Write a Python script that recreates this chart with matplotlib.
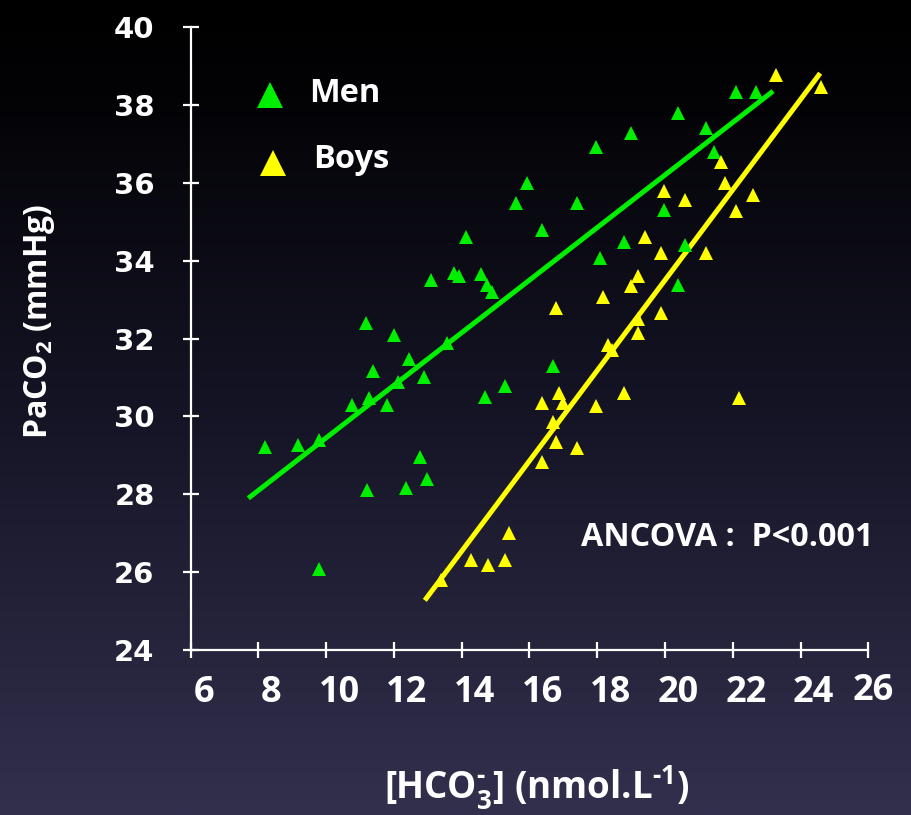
import numpy as np
import matplotlib
matplotlib.use("Agg")
import matplotlib.pyplot as plt
import matplotlib.transforms as mtransforms

# data
men_hco3 = [8.19, 9.17, 9.79, 9.79, 10.76, 11.17, 11.26, 11.38, 11.20, 11.79,
            12.00, 12.12, 12.44, 12.35, 12.77, 12.89, 12.97, 13.09, 13.57, 13.77,
            13.92, 14.13, 14.57, 14.75, 14.89, 14.69, 15.28, 15.60, 15.93, 16.37,
            16.69, 17.40, 17.96, 18.08, 18.79, 19.00, 19.97, 20.39, 20.39, 20.59,
            21.21, 21.45, 22.10, 22.69]
men_paco2 = [29.21, 29.26, 29.39, 26.08, 30.29, 32.40, 30.47, 31.16, 28.11, 30.29,
             32.09, 30.88, 31.47, 28.16, 28.96, 31.01, 28.39, 33.50, 31.88, 33.68,
             33.60, 34.61, 33.66, 33.37, 33.19, 30.50, 30.78, 35.48, 35.99, 34.79,
             31.29, 35.48, 36.92, 34.07, 34.48, 37.28, 35.30, 37.79, 33.37, 34.40,
             37.40, 36.79, 38.33, 38.33]

boys_hco3 = [13.39, 14.27, 14.77, 15.28, 15.40, 16.37, 16.37, 16.69, 16.78, 16.87,
             16.99, 17.40, 17.96, 18.79, 22.18, 18.32, 18.44, 19.20, 19.20, 19.88,
             16.78, 18.17, 18.99, 19.20, 19.88, 19.41, 21.21, 19.97, 20.59, 21.65,
             21.77, 22.59, 22.09, 23.28, 24.61]
boys_paco2 = [25.80, 26.31, 26.18, 26.31, 27.00, 28.83, 30.34, 29.86, 29.34, 30.60,
              30.34, 29.19, 30.27, 30.60, 30.47, 31.83, 31.70, 32.14, 32.50, 32.65,
              32.78, 33.07, 33.35, 33.60, 34.20, 34.61, 34.20, 35.79, 35.56, 36.53,
              35.99, 35.68, 35.27, 38.77, 38.46]

# regression lines (slope, intercept) and x range as drawn
men_fit = (0.675, 22.70)
men_fit_range = (7.70, 23.19)
boys_fit = (1.160, 10.30)
boys_fit_range = (12.91, 24.58)

x_ticks = [6, 8, 10, 12, 14, 16, 18, 20, 22, 24, 26]
y_ticks = [24, 26, 28, 30, 32, 34, 36, 38, 40]

GREEN = "#00EE00"
YELLOW = "#FFFF00"
W, H = 911, 815

plt.rcParams["font.family"] = ["Open Sans", "DejaVu Sans"]
plt.rcParams["font.weight"] = "bold"
plt.rcParams["mathtext.fontset"] = "custom"
plt.rcParams["mathtext.rm"] = "Open Sans:bold"
plt.rcParams["mathtext.bf"] = "Open Sans:bold"
plt.rcParams["mathtext.it"] = "Open Sans:bold:italic"
plt.rcParams["mathtext.default"] = "rm"

fig = plt.figure(figsize=(W / 100, H / 100), dpi=100)

# slide background gradient, black at the top to dark slate blue at the bottom
bg = fig.add_axes([0, 0, 1, 1], zorder=-10)
pos = np.linspace(0, 1, 400)
stops = [0.0, 0.12, 0.5, 1.0]
cols = np.array([[0, 0, 0], [3, 3, 6], [21, 20, 37], [50, 48, 77]]) / 255
grad = np.stack([np.interp(pos, stops, cols[:, i]) for i in range(3)], axis=-1)
bg.imshow(grad[:, None, :], aspect="auto", extent=[0, 1, 0, 1])
bg.set_axis_off()

ax = fig.add_axes([190.7 / W, (H - 650) / H, (868.3 - 190.7) / W, (650 - 27) / H])
ax.set_facecolor("none")
ax.set_xlim(6, 26)
ax.set_ylim(24, 40)

for s in ["top", "right"]:
    ax.spines[s].set_visible(False)
for s in ["left", "bottom"]:
    ax.spines[s].set_color("white")
    ax.spines[s].set_linewidth(1.6)

ax.set_xticks(x_ticks)
ax.set_yticks(y_ticks)
ax.tick_params(direction="inout", length=12, width=1.6, color="white",
               labelcolor="white")
ax.tick_params(axis="y", pad=20)
ax.tick_params(axis="x", pad=12)
ax.set_yticklabels([str(v) for v in y_ticks], fontfamily="DejaVu Sans",
                   fontweight="bold", fontsize=21)
ax.set_xticklabels([str(v) for v in x_ticks], fontsize=26, fontweight="bold")

# x labels sit a bit to the right of their ticks on the slide
for lab in ax.get_xticklabels():
    dx, dy = 13 / 100, 0
    if lab.get_text() == "26":
        dx, dy = 5 / 100, 2 / 100
    lab.set_transform(lab.get_transform() +
                      mtransforms.ScaledTranslation(dx, dy, fig.dpi_scale_trans))

# regression lines
xm = np.array(men_fit_range)
ax.plot(xm, men_fit[0] * xm + men_fit[1], color=GREEN, lw=3.6,
        solid_capstyle="butt", zorder=2)
xb = np.array(boys_fit_range)
ax.plot(xb, boys_fit[0] * xb + boys_fit[1], color=YELLOW, lw=3.6,
        solid_capstyle="butt", zorder=2)

ax.plot(men_hco3, men_paco2, ls="none", marker="^", ms=10, color=GREEN,
        mew=0, zorder=3)
ax.plot(boys_hco3, boys_paco2, ls="none", marker="^", ms=10, color=YELLOW,
        mew=0, zorder=3)

# legend drawn by hand, as on the slide
fig.lines.append(plt.Line2D([270 / W], [1 - 95 / H], marker="^", ms=19,
                            color=GREEN, mew=0, transform=fig.transFigure))
fig.lines.append(plt.Line2D([273 / W], [1 - 163 / H], marker="^", ms=19,
                            color=YELLOW, mew=0, transform=fig.transFigure))
fig.text(309 / W, 1 - 93 / H, "Men", color="white", fontsize=23.5,
         fontweight="bold", va="center", ha="left")
fig.text(313 / W, 1 - 160 / H, "Boys", color="white", fontsize=23.5,
         fontweight="bold", va="center", ha="left")

fig.text(581 / W, 1 - 538 / H, "ANCOVA :  P<0.001", color="white", fontsize=23.3,
         fontweight="bold", va="center", ha="left")

fig.text(537 / W, 1 - 788 / H, r"[HCO$_3^{\text{-}}$] (nmol.L$^{\text{-}1}$)",
         color="white", fontsize=26.5, fontweight="bold", va="center", ha="center")
fig.text(40 / W, 1 - 321 / H, r"PaCO$_2$ (mmHg)", color="white", fontsize=23,
         fontweight="bold", va="center", ha="center", rotation=90)

fig.savefig("out.png", dpi=100)
